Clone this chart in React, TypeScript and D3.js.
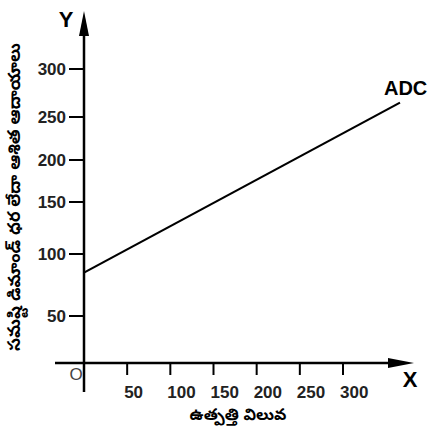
import React from 'react';
import * as d3 from 'd3';

// ---- data ----
const xTicks: number[] = [50, 100, 150, 200, 250, 300];
const yTicks: number[] = [50, 100, 150, 200, 250, 300];
const adcX: number[] = [0, 366];
const adcY: number[] = [85, 265];
const curveLabel = 'ADC';
const xAxisTitle = 'ఉత్పత్తి విలువ';
const yAxisTitle = 'సమష్టి డిమాండ్ ధర లేదా ఆశిత ఆదాయాలు';
const originLabel = 'O';

export default function App() {
  const W = 431;
  const H = 432;
  const x = d3.scaleLinear().domain([0, 300]).range([84, 343]);
  // hand-drawn, unevenly spaced vertical axis
  const y = d3
    .scaleLinear()
    .domain([0, 50, 100, 150, 200, 250, 300])
    .range([363, 316, 254, 202, 160, 117, 69]);

  const x0 = x(0);
  const y0 = y(0);
  const pts: [number, number][] = adcX.map((v, i) => [v, adcY[i]]);
  const line = d3
    .line<[number, number]>()
    .x((d) => x(d[0]))
    .y((d) => y(d[1]));

  const font = "'Liberation Sans', Arial, Helvetica, sans-serif";
  const teluguFont = "'Noto Sans Telugu', 'Gautami', 'Lohit Telugu', sans-serif";

  const lastPt = pts[pts.length - 1];

  return (
    <svg
      width={W}
      height={H}
      viewBox={`0 0 ${W} ${H}`}
      style={{ position: 'absolute', left: 0, top: 0, background: '#fff' }}
    >
      <rect x={0} y={0} width={W} height={H} fill="#fff" />
      {/* Y axis */}
      <line x1={x0} y1={y0 + 29} x2={x0} y2={32} stroke="#000" strokeWidth={2.5} />
      <path d={`M${x0},11 L${x0 - 5},36 L${x0 + 5},36 Z`} fill="#000" />
      {/* X axis */}
      <line x1={55} y1={y0} x2={392} y2={y0} stroke="#000" strokeWidth={2.5} />
      <path d={`M414,${y0} L388,${y0 - 5} L388,${y0 + 5} Z`} fill="#000" />

      {/* Y ticks */}
      {yTicks.map((t) => (
        <g key={`y${t}`}>
          <line x1={x0 - 15} x2={x0} y1={y(t)} y2={y(t)} stroke="#000" strokeWidth={2} />
          <text
            x={x0 - 18}
            y={y(t)}
            dy="0.36em"
            textAnchor="end"
            fontFamily={font}
            fontSize={17}
            fontWeight="bold"
            fill="#222"
          >
            {t}
          </text>
        </g>
      ))}

      {/* X ticks */}
      {xTicks.map((t) => (
        <g key={`x${t}`}>
          <line x1={x(t)} x2={x(t)} y1={y0} y2={y0 + 12} stroke="#000" strokeWidth={2} />
          <text
            x={x(t) - 3}
            y={y0 + 35}
            textAnchor="start"
            fontFamily={font}
            fontSize={17}
            fontWeight="bold"
            fill="#222"
          >
            {t}
          </text>
        </g>
      ))}

      {/* ADC line */}
      <path d={line(pts) || ''} fill="none" stroke="#000" strokeWidth={2.2} />
      <text
        x={x(lastPt[0]) - 16}
        y={y(lastPt[1]) - 8}
        fontFamily={font}
        fontSize={20}
        fontWeight="bold"
        fill="#000"
      >
        {curveLabel}
      </text>

      {/* axis letters */}
      <text x={66} y={27} textAnchor="middle" fontFamily={font} fontSize={22} fontWeight="bold" fill="#000">
        Y
      </text>
      <text x={410} y={387} textAnchor="middle" fontFamily={font} fontSize={22} fontWeight="bold" fill="#000">
        X
      </text>
      <text x={76} y={380} textAnchor="middle" fontFamily={font} fontSize={17} fill="#444">
        {originLabel}
      </text>

      {/* axis titles */}
      <text
        x={238}
        y={420}
        textAnchor="middle"
        fontFamily={teluguFont}
        fontSize={16}
        fontWeight="bold"
        fill="#000"
      >
        {xAxisTitle}
      </text>
      <text
        transform={`translate(20,197) rotate(-90)`}
        textAnchor="middle"
        fontFamily={teluguFont}
        fontSize={17}
        fontWeight="bold"
        textLength={308}
        lengthAdjust="spacingAndGlyphs"
        fill="#000"
      >
        {yAxisTitle}
      </text>
    </svg>
  );
}
